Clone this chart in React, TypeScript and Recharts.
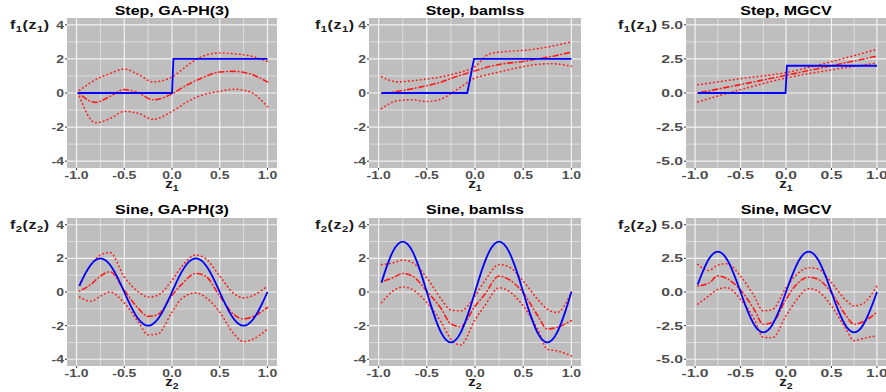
import React from 'react';
import { LineChart, Line, XAxis, YAxis, CartesianGrid } from 'recharts';

const titles = ['Step, GA-PH(3)', 'Step, bamlss', 'Step, MGCV', 'Sine, GA-PH(3)', 'Sine, bamlss', 'Sine, MGCV'];

const xTicks = [-1, -0.5, 0, 0.5, 1];
const xMinor = [-0.75, -0.25, 0.25, 0.75];
const yTicks4 = [-4, -2, 0, 2, 4];
const yMinor4 = [-3, -1, 1, 3];
const yTicks5 = [-5, -2.5, 0, 2.5, 5];
const yMinor5 = [-3.75, -1.25, 1.25, 3.75];

// step row
const stepX = [-0.97, -0.8, -0.65, -0.5, -0.35, -0.2, 0, 0.15, 0.3, 0.5, 0.65, 0.8, 1.0];
const ghStepEst = [-0.05, -0.55, -0.2, 0.2, 0.0, -0.4, -0.05, 0.45, 0.85, 1.23, 1.27, 1.15, 0.65];
const ghStepUp = [0.15, 0.78, 1.14, 1.4, 1.08, 0.65, 0.94, 1.57, 2.1, 2.35, 2.3, 2.2, 1.85];
const ghStepLo = [-0.2, -1.75, -1.5, -1.08, -1.2, -1.55, -1.08, -0.55, -0.15, 0.1, 0.22, 0.1, -0.8];
const bmStepEst = [-0.03, 0.1, 0.25, 0.43, 0.65, 0.95, 1.3, 1.55, 1.72, 1.85, 2.0, 2.15, 2.4];
const bmStepUp = [0.95, 0.65, 0.72, 0.82, 0.95, 1.15, 1.55, 2.3, 2.42, 2.5, 2.6, 2.75, 3.0];
const bmStepLo = [-0.92, -0.45, -0.4, -0.5, -0.35, 0.15, 0.88, 1.1, 1.3, 1.55, 1.68, 1.72, 1.57];
const mgStepX = [-0.97, -0.5, 0, 0.5, 1.0];
const mgStepEst = [0.0, 0.62, 1.3, 2.0, 2.7];
const mgStepUp = [0.6, 1.05, 1.5, 2.3, 3.2];
const mgStepLo = [-0.65, 0.25, 1.1, 1.7, 2.2];
const truthStepY = [0, 0, 2, 2];
const ghStepTruthX = [-0.99, 0, 0.015, 1];
const bmStepTruthX = [-0.97, -0.08, -0.01, 1];
const mgStepTruthX = [-0.97, -0.005, 0.01, 1];

// sine row
const sineX = [-0.97, -0.85, -0.75, -0.65, -0.5, -0.35, -0.25, -0.15, 0, 0.1, 0.25, 0.35, 0.5, 0.65, 0.75, 0.85, 1.0];
const ghSineEst = [0.05, 0.45, 0.95, 1.2, 0.1, -1.0, -1.45, -1.35, -0.2, 0.45, 1.1, 0.95, -0.25, -1.35, -1.6, -1.45, -0.92];
const ghSineUp = [0.4, 1.6, 2.2, 2.35, 0.9, 0.0, -0.3, -0.2, 0.7, 1.5, 2.2, 2.0, 0.95, -0.1, -0.35, -0.2, 0.35];
const ghSineLo = [-0.3, -0.55, -0.25, 0.0, -0.65, -1.8, -2.55, -2.5, -1.2, -0.4, -0.05, -0.3, -1.2, -2.5, -2.95, -2.8, -2.2];
const bmSineEst = [0.6, 0.85, 1.1, 0.95, 0.05, -1.0, -1.9, -2.05, -0.85, -0.15, 0.95, 0.75, -0.05, -1.4, -2.2, -2.1, -1.7];
const bmSineUp = [1.63, 1.73, 1.9, 1.75, 0.85, -0.43, -1.07, -1.12, -0.24, 0.65, 1.63, 1.5, 0.65, -0.43, -1.02, -1.22, 0.0];
const bmSineLo = [-0.63, 0.06, 0.3, 0.15, -0.63, -1.8, -2.8, -3.15, -1.65, -0.83, 0.25, 0.06, -0.83, -2.2, -3.4, -3.5, -3.8];
const mgSineEst = [0.45, 0.65, 1.2, 1.0, 0.15, -1.3, -2.4, -2.25, -0.55, 0.45, 1.1, 0.95, -0.05, -1.65, -2.4, -2.2, -1.5];
const mgSineUp = [2.05, 1.6, 2.0, 2.1, 1.18, -0.3, -1.4, -1.3, 0.32, 1.18, 1.8, 1.72, 0.7, -0.55, -1.03, -0.84, 0.45];
const mgSineLo = [-0.9, -0.3, 0.2, 0.32, -0.55, -2.0, -3.37, -3.4, -1.77, -0.74, 0.25, 0.07, -1.03, -2.64, -3.62, -3.45, -3.25];

const truthSineX = [-0.97, -0.95, -0.9, -0.85, -0.8, -0.75, -0.7, -0.65, -0.6, -0.55, -0.5, -0.45, -0.4, -0.35, -0.3, -0.25,
  -0.2, -0.15, -0.1, -0.05, 0, 0.05, 0.1, 0.15, 0.2, 0.25, 0.3, 0.35, 0.4, 0.45, 0.5, 0.55, 0.6, 0.65, 0.7, 0.75, 0.8, 0.85,
  0.9, 0.95, 1.0];
const truthSine2 = [0.37, 0.62, 1.18, 1.62, 1.9, 2, 1.9, 1.62, 1.18, 0.62, 0, -0.62, -1.18, -1.62, -1.9, -2, -1.9, -1.62,
  -1.18, -0.62, 0, 0.62, 1.18, 1.62, 1.9, 2, 1.9, 1.62, 1.18, 0.62, 0, -0.62, -1.18, -1.62, -1.9, -2, -1.9, -1.62, -1.18,
  -0.62, 0];
const truthSine3 = [0.56, 0.93, 1.76, 2.43, 2.85, 3, 2.85, 2.43, 1.76, 0.93, 0, -0.93, -1.76, -2.43, -2.85, -3, -2.85, -2.43,
  -1.76, -0.93, 0, 0.93, 1.76, 2.43, 2.85, 3, 2.85, 2.43, 1.76, 0.93, 0, -0.93, -1.76, -2.43, -2.85, -3, -2.85, -2.43, -1.76,
  -0.93, 0];

const pts = (xs: number[], ys: number[]) => xs.map((x, i) => ({ x, y: ys[i] }));

const FONT = '"Liberation Sans", Arial, Helvetica, sans-serif';
const TICK_COLOR = '#4D4D4D';

const cols = [
  { x: 67, w: 210, labelLeft: 10, sx: 1 },
  { x: 369, w: 212, labelLeft: 315, sx: 1 },
  { x: 686, w: 200, labelLeft: 618, sx: 1.12 },
];
const rows = [
  { y: 18, h: 150, titleTop: 3, ylabTop: 17, xlabTop: 177 },
  { y: 218, h: 148, titleTop: 202, ylabTop: 217, xlabTop: 375 },
];

const YW = 40;
const XH = 22;
const RM = 16;

const fmtX = (v: number) => v.toFixed(1);

const makeXTick = (sx: number) => (props: any) => {
  const { x, y, payload } = props;
  return (
    <text transform={`translate(${x},${y}) scale(${sx},0.83)`} textAnchor="middle" dy="0.71em"
      fill={TICK_COLOR} fontSize={14} fontWeight="bold" fontFamily={FONT}>
      {fmtX(payload.value)}
    </text>
  );
};

const makeYTick = (sx: number, fmt: (v: number) => string) => (props: any) => {
  const { x, y, payload } = props;
  return (
    <text transform={`translate(${x},${y}) scale(${sx},0.83)`} textAnchor="end" dy="0.355em"
      fill={TICK_COLOR} fontSize={14} fontWeight="bold" fontFamily={FONT}>
      {fmt(payload.value)}
    </text>
  );
};

const Sub = ({ children }: { children: React.ReactNode }) => (
  <span style={{ fontSize: '0.7em', position: 'relative', top: '0.3em' }}>{children}</span>
);

interface PanelProps {
  col: number;
  row: number;
  title: string;
  idx: number;
  wide: boolean;
  truth: { x: number; y: number }[];
  est: { x: number; y: number }[];
  up: { x: number; y: number }[];
  lo: { x: number; y: number }[];
}

const Panel: React.FC<PanelProps> = ({ col, row, title, idx, wide, truth, est, up, lo }) => {
  const c = cols[col];
  const r = rows[row];
  const yTicks = wide ? yTicks5 : yTicks4;
  const yMinor = wide ? yMinor5 : yMinor4;
  const yDomain = wide ? [-5.5, 5.5] : [-4.4, 4.4];
  const yFmt = wide ? (v: number) => v.toFixed(1) : (v: number) => String(v);
  const cx = c.x + c.w / 2;
  return (
    <>
      <div style={{
        position: 'absolute', left: cx, top: r.titleTop, fontSize: 16, lineHeight: '16px', fontWeight: 'bold',
        color: '#000', whiteSpace: 'nowrap', transform: 'translateX(-50%) scaleY(0.81)',
      }}>{title}</div>
      <div style={{
        position: 'absolute', left: c.labelLeft, top: r.ylabTop, fontSize: 16, lineHeight: '16px', fontWeight: 'bold',
        color: '#1a1a1a', whiteSpace: 'nowrap', letterSpacing: 0.5, transform: 'scaleY(0.83)',
      }}>f<Sub>{idx}</Sub>(z<Sub>{idx}</Sub>)</div>
      <div style={{
        position: 'absolute', left: cx, top: r.xlabTop, fontSize: 15, lineHeight: '13px', fontWeight: 'bold',
        color: '#1a1a1a', whiteSpace: 'nowrap', transform: 'translateX(-50%) scaleY(0.83)',
      }}>z<Sub>{idx}</Sub></div>
      <div style={{ position: 'absolute', left: c.x - YW, top: r.y }}>
        <LineChart width={YW + c.w + RM} height={r.h + XH} margin={{ top: 0, right: RM, left: 0, bottom: 0 }}>
          <CartesianGrid fill="#BEBEBE" stroke="#F2F2F2" strokeWidth={0.6}
            horizontalValues={yMinor} verticalValues={xMinor} />
          <CartesianGrid stroke="#F2F2F2" strokeWidth={1.2}
            horizontalValues={yTicks} verticalValues={xTicks} />
          <XAxis type="number" dataKey="x" domain={[-1.1, 1.1]} ticks={xTicks} allowDataOverflow
            axisLine={false} tickLine={{ stroke: '#333' }} tickSize={2} tickMargin={1} height={XH}
            tick={makeXTick(c.sx)} interval={0} />
          <YAxis type="number" dataKey="y" domain={yDomain} ticks={yTicks} allowDataOverflow
            axisLine={false} tickLine={{ stroke: '#333' }} tickSize={2} tickMargin={1} width={YW}
            tick={makeYTick(c.sx, yFmt)} interval={0} />
          <Line data={up} dataKey="y" type="monotone" stroke="#FF1A1A" strokeWidth={1.6}
            strokeDasharray="0.5 3.5" strokeLinecap="round" dot={false} isAnimationActive={false} />
          <Line data={lo} dataKey="y" type="monotone" stroke="#FF1A1A" strokeWidth={1.6}
            strokeDasharray="0.5 3.5" strokeLinecap="round" dot={false} isAnimationActive={false} />
          <Line data={est} dataKey="y" type="monotone" stroke="#FF1A1A" strokeWidth={1.6}
            strokeDasharray="0.5 3 5 3" strokeLinecap="round" dot={false} isAnimationActive={false} />
          <Line data={truth} dataKey="y" type={row === 0 ? 'linear' : 'monotone'} stroke="#0000FF" strokeWidth={1.8}
            dot={false} isAnimationActive={false} />
        </LineChart>
      </div>
    </>
  );
};

export default function App() {
  return (
    <div style={{
      position: 'absolute', left: 0, top: 0, width: 886, height: 392, overflow: 'hidden',
      background: '#fff', fontFamily: FONT,
    }}>
      <Panel col={0} row={0} title={titles[0]} idx={1} wide={false} truth={pts(ghStepTruthX, truthStepY)}
        est={pts(stepX, ghStepEst)} up={pts(stepX, ghStepUp)} lo={pts(stepX, ghStepLo)} />
      <Panel col={1} row={0} title={titles[1]} idx={1} wide={false} truth={pts(bmStepTruthX, truthStepY)}
        est={pts(stepX, bmStepEst)} up={pts(stepX, bmStepUp)} lo={pts(stepX, bmStepLo)} />
      <Panel col={2} row={0} title={titles[2]} idx={1} wide truth={pts(mgStepTruthX, truthStepY)}
        est={pts(mgStepX, mgStepEst)} up={pts(mgStepX, mgStepUp)} lo={pts(mgStepX, mgStepLo)} />
      <Panel col={0} row={1} title={titles[3]} idx={2} wide={false} truth={pts(truthSineX, truthSine2)}
        est={pts(sineX, ghSineEst)} up={pts(sineX, ghSineUp)} lo={pts(sineX, ghSineLo)} />
      <Panel col={1} row={1} title={titles[4]} idx={2} wide={false} truth={pts(truthSineX, truthSine3)}
        est={pts(sineX, bmSineEst)} up={pts(sineX, bmSineUp)} lo={pts(sineX, bmSineLo)} />
      <Panel col={2} row={1} title={titles[5]} idx={2} wide truth={pts(truthSineX, truthSine3)}
        est={pts(sineX, mgSineEst)} up={pts(sineX, mgSineUp)} lo={pts(sineX, mgSineLo)} />
    </div>
  );
}
